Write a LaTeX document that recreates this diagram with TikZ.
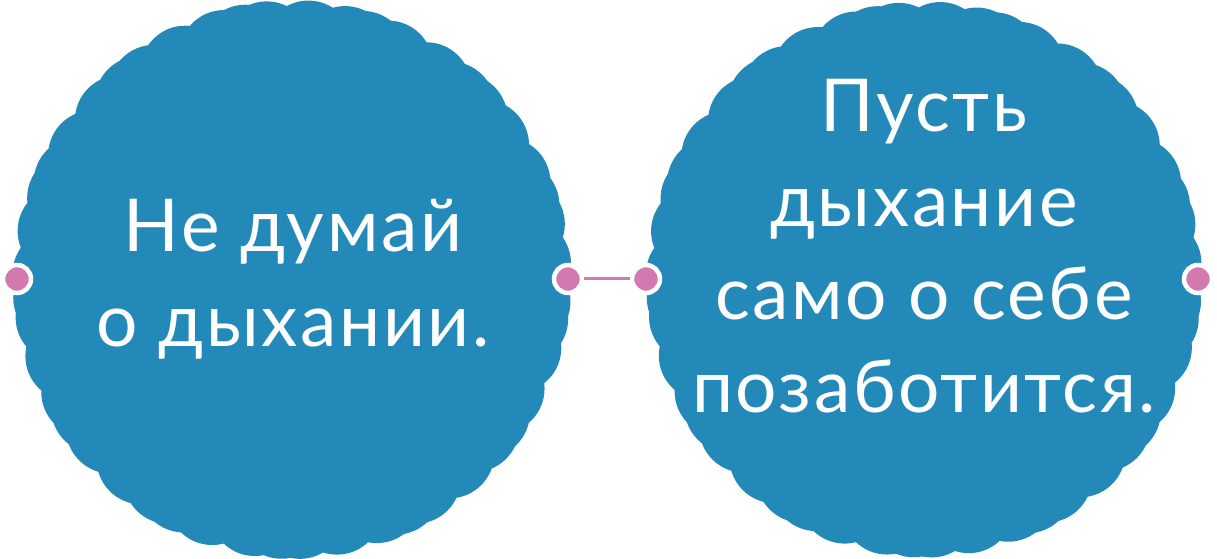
\documentclass[tikz,border=0pt]{standalone}
\usepackage{fontspec}
\setmainfont[LetterSpace=3.5]{Lato}
\definecolor{cblue}{HTML}{2389B9}
\definecolor{cpink}{HTML}{D27AB0}
\tikzset{
  pdot/.style={circle, fill=cpink, minimum size=28pt, inner sep=0pt, draw=white, line width=4.5pt},
  link/.style={draw=cpink, line width=3pt},
  txt/.style={text=white, anchor=base, inner sep=0pt, font=\fontsize{73}{88}\selectfont},
}
\newcommand{\scallop}[3]{% cx cy R
  \fill[cblue] (#1,#2) circle ({#3-12});
  \foreach \i in {0,...,47}{
    \pgfmathsetmacro{\ang}{7.5*\i+4+2.2*sin(97*\i)}
    \fill[cblue] ({#1+(#3-45)*cos(\ang)},{#2+(#3-45)*sin(\ang)}) circle (45);
  }
}
\begin{document}
\begin{tikzpicture}[x=1pt,y=1pt]
\useasboundingbox (0,0) rectangle (1217,559);
\scallop{292}{279.5}{279.5}
\scallop{924}{279.5}{278}
\node[txt] (l1) at (293,307) {Не думай};
\node[txt] (l2) at (293,212) {о дыхании.};
\node[txt] (r1) at (924,427) {Пусть};
\node[txt] (r2) at (924,332) {дыхание};
\node[txt] (r3) at (924,239) {само о себе};
\node[txt] (r4) at (924,146) {позаботится.};
\node[pdot] (d1) at (17,280) {};
\node[pdot] (d2) at (568,280) {};
\node[pdot] (d3) at (646,280) {};
\node[pdot] (d4) at (1198,280) {};
\draw[link] (d2) -- (d3);
\end{tikzpicture}
\end{document}
